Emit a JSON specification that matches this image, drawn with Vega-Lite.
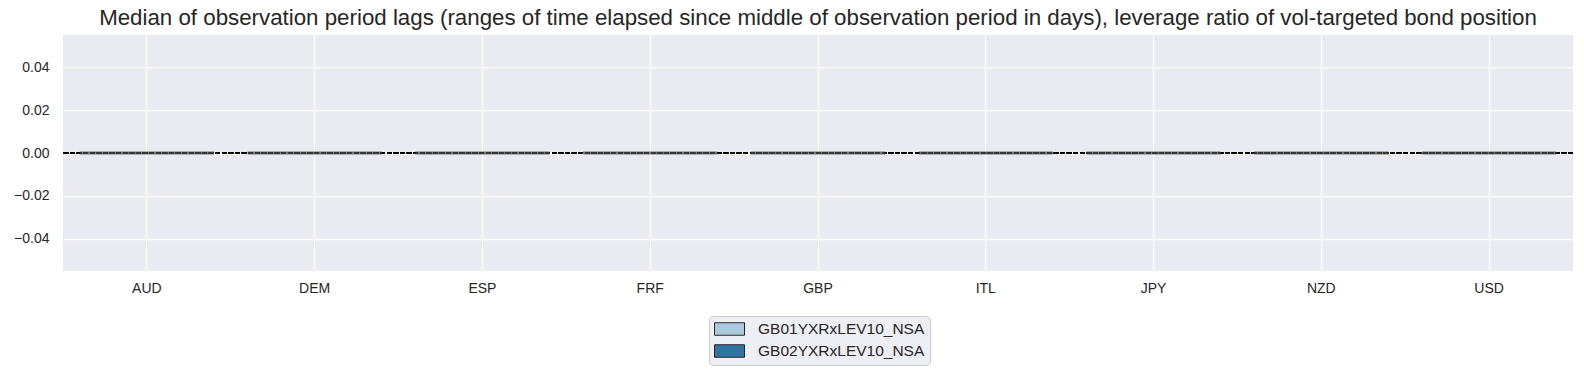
{
  "$schema": "https://vega.github.io/schema/vega-lite/v6.json",
  "autosize": {"type": "none"},
  "width": 1510,
  "height": 236,
  "padding": {"left": 63, "top": 35, "right": 11, "bottom": 102},
  "background": "white",
  "title": {
    "text": "Median of observation period lags (ranges of time elapsed since middle of observation period in days), leverage ratio of vol-targeted bond position",
    "font": "Liberation Sans",
    "fontSize": 22.3,
    "fontWeight": "normal",
    "color": "#262626",
    "anchor": "middle",
    "offset": 6
  },
  "config": {
    "view": {"fill": "#EAEAF2", "stroke": null},
    "axis": {
      "labelFont": "Liberation Sans",
      "labelFontSize": 14,
      "labelColor": "#262626",
      "gridColor": "white",
      "gridWidth": 1.25,
      "gridOpacity": 1,
      "domain": false,
      "ticks": false,
      "title": null
    }
  },
  "data": {
    "values": [
      {"country": "AUD", "series": "GB01YXRxLEV10_NSA", "value": 0},
      {"country": "AUD", "series": "GB02YXRxLEV10_NSA", "value": 0},
      {"country": "DEM", "series": "GB01YXRxLEV10_NSA", "value": 0},
      {"country": "DEM", "series": "GB02YXRxLEV10_NSA", "value": 0},
      {"country": "ESP", "series": "GB01YXRxLEV10_NSA", "value": 0},
      {"country": "ESP", "series": "GB02YXRxLEV10_NSA", "value": 0},
      {"country": "FRF", "series": "GB01YXRxLEV10_NSA", "value": 0},
      {"country": "FRF", "series": "GB02YXRxLEV10_NSA", "value": 0},
      {"country": "GBP", "series": "GB01YXRxLEV10_NSA", "value": 0},
      {"country": "GBP", "series": "GB02YXRxLEV10_NSA", "value": 0},
      {"country": "ITL", "series": "GB01YXRxLEV10_NSA", "value": 0},
      {"country": "ITL", "series": "GB02YXRxLEV10_NSA", "value": 0},
      {"country": "JPY", "series": "GB01YXRxLEV10_NSA", "value": 0},
      {"country": "JPY", "series": "GB02YXRxLEV10_NSA", "value": 0},
      {"country": "NZD", "series": "GB01YXRxLEV10_NSA", "value": 0},
      {"country": "NZD", "series": "GB02YXRxLEV10_NSA", "value": 0},
      {"country": "USD", "series": "GB01YXRxLEV10_NSA", "value": 0},
      {"country": "USD", "series": "GB02YXRxLEV10_NSA", "value": 0}
    ]
  },
  "layer": [
    {
      "mark": {"type": "rule", "color": "black", "strokeDash": [4.6, 2], "strokeWidth": 1.25},
      "encoding": {"y": {"datum": 0, "type": "quantitative", "scale": {"domain": [-0.055, 0.055], "nice": false, "zero": false}}}
    },
    {
      "mark": {"type": "bar", "stroke": "#4a4a4a", "strokeWidth": 3, "strokeOpacity": 0.75},
      "encoding": {
        "x": {
          "field": "country",
          "type": "nominal",
          "sort": null,
          "scale": {"paddingInner": 0, "paddingOuter": 0},
          "axis": {"labelAngle": 0, "grid": true, "bandPosition": 0.5, "labelPadding": 10}
        },
        "xOffset": {
          "field": "series",
          "type": "nominal",
          "scale": {"paddingInner": 0, "paddingOuter": 0.25}
        },
        "y": {
          "field": "value",
          "type": "quantitative",
          "scale": {"domain": [-0.055, 0.055], "nice": false, "zero": false},
          "axis": {"values": [-0.04, -0.02, 0, 0.02, 0.04], "format": ".2f", "labelPadding": 14, "grid": true}
        },
        "y2": {"datum": 0},
        "color": {
          "field": "series",
          "type": "nominal",
          "scale": {"domain": ["GB01YXRxLEV10_NSA", "GB02YXRxLEV10_NSA"], "range": ["#abc9dd", "#3274a1"]},
          "legend": {
            "title": null,
            "orient": "none",
            "legendX": 646,
            "legendY": 281,
            "direction": "vertical",
            "fillColor": "#EEEEF5",
            "strokeColor": "#CCCCCC",
            "cornerRadius": 4,
            "padding": 5,
            "labelFont": "Liberation Sans",
            "labelFontSize": 15.5,
            "labelColor": "#262626",
            "labelLimit": 400,
            "symbolType": "M-1,-0.417H1V0.417H-1Z",
            "symbolSize": 900,
            "symbolStrokeColor": "#262626",
            "symbolStrokeWidth": 1,
            "symbolOpacity": 1,
            "labelOffset": 13,
            "clipHeight": 16,
            "rowPadding": 5
          }
        }
      }
    }
  ]
}
